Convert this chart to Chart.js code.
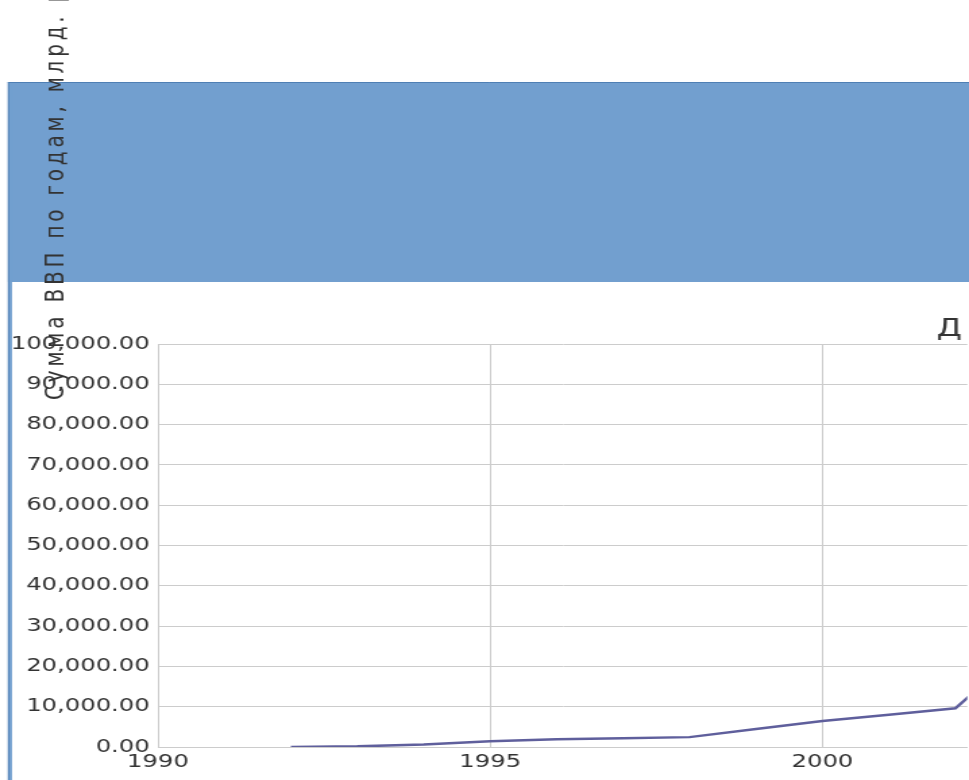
<!DOCTYPE html>
<html>
<head>
<meta charset="utf-8">
<script src="https://cdn.jsdelivr.net/npm/chart.js@4"></script>
<style>
  html, body { margin: 0; padding: 0; background: #fff; overflow: hidden; }
  /* the original picture is stretched sideways, so the whole chart is too */
  #wrap { width: 718px; height: 780px; transform: scaleX(1.3496); transform-origin: 0 0; }
</style>
</head>
<body>
<div id="wrap"><canvas id="grafico"></canvas></div>
<script>
// years and GDP sum (bn rub)
const anos = [1992, 1993, 1994, 1995, 1996, 1997, 1998, 1999, 2000, 2001, 2002, 2003];
const vvp = [20, 170, 610, 1450, 1900, 2150, 2450, 4450, 6450, 8000, 9600, 24000];
const ticksX = [1990, 1995, 2000];
const tituloY = 'Сумма ВВП по годам, млрд. руб.';
const tituloGrafico = 'Динамика ВВП';

const fondo = {
  id: 'fondo',
  beforeDraw(chart) {
    const ctx = chart.ctx;
    ctx.save();
    ctx.fillStyle = '#729fcf';
    ctx.fillRect(5.9, 82, 720, 200);
    ctx.fillRect(5.9, 82, 3, 698);
    ctx.strokeStyle = '#4f7fb4';
    ctx.lineWidth = 1;
    ctx.beginPath();
    ctx.moveTo(5.9, 82.5); ctx.lineTo(720, 82.5);
    ctx.moveTo(6.3, 82); ctx.lineTo(6.3, 780);
    ctx.stroke();
    ctx.restore();
  },
  afterDraw(chart) {
    const ctx = chart.ctx;
    ctx.save();
    ctx.fillStyle = '#333';
    ctx.font = '20px "DejaVu Sans"';
    ctx.letterSpacing = '3.8px';
    ctx.textBaseline = 'alphabetic';
    ctx.textAlign = 'left';
    ctx.translate(47, 400);
    ctx.rotate(-Math.PI / 2);
    ctx.fillText(tituloY, 0, 0);
    ctx.restore();
    ctx.save();
    ctx.fillStyle = '#333';
    ctx.font = '24px "DejaVu Sans"';
    ctx.letterSpacing = '6px';
    ctx.textBaseline = 'alphabetic';
    ctx.fillText(tituloGrafico, 694, 336);
    ctx.restore();
  }
};

new Chart(document.getElementById('grafico'), {
  type: 'line',
  data: {
    datasets: [{
      data: anos.map((a, i) => ({ x: a, y: vvp[i] })),
      borderColor: '#5f5f9c',
      borderWidth: 2.5,
      pointRadius: 0,
      tension: 0
    }]
  },
  options: {
    responsive: true,
    maintainAspectRatio: false,
    animation: false,
    layout: { padding: { top: 344, left: 0, right: 0, bottom: 0 } },
    plugins: { legend: { display: false }, tooltip: { enabled: false } },
    scales: {
      x: {
        type: 'linear',
        min: 1990,
        max: 2002.18,
        afterBuildTicks: s => { s.ticks = ticksX.map(v => ({ value: v })); },
        afterFit: s => { s.height = 33; },
        grid: { color: '#cccccc', drawTicks: false },
        border: { color: '#cccccc' },
        ticks: {
          padding: 5,
          color: '#333',
          maxRotation: 0,
          autoSkip: false,
          font: { family: 'DejaVu Sans', size: 18 },
          callback: v => String(v)
        }
      },
      y: {
        min: 0,
        max: 100000,
        afterFit: s => { s.width = 117; },
        grid: { color: '#cccccc', drawTicks: false },
        border: { color: '#cccccc' },
        ticks: {
          stepSize: 10000,
          padding: 6,
          color: '#333',
          font: { family: 'DejaVu Sans', size: 18 },
          callback: v => v.toLocaleString('en-US', { minimumFractionDigits: 2, maximumFractionDigits: 2 })
        }
      }
    }
  },
  plugins: [fondo]
});
</script>
</body>
</html>
